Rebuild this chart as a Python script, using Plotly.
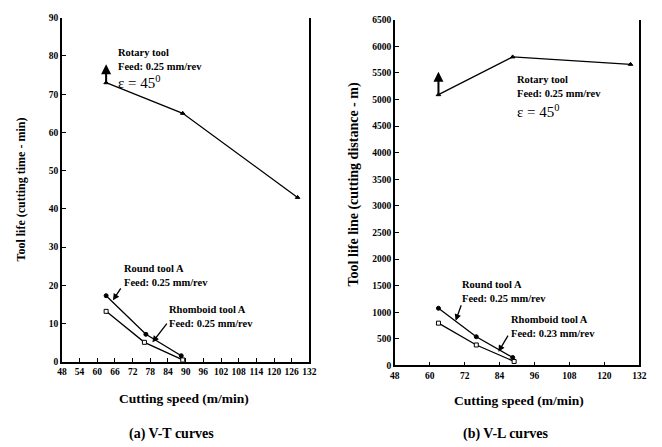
import plotly.graph_objects as go

# ---- data: (a) V-T curves ----
vt_rotary_v = [63, 89, 128]
vt_rotary_t = [73, 65, 43]
vt_round_v = [63, 76.5, 88.5]
vt_round_t = [17.3, 7.2, 1.6]
vt_rhomb_v = [63, 76, 89]
vt_rhomb_t = [13.2, 5.1, 0.5]

# ---- data: (b) V-L curves ----
vl_rotary_v = [63, 88.5, 129]
vl_rotary_l = [5090, 5800, 5660]
vl_round_v = [63, 76, 88.5]
vl_round_l = [1075, 540, 150]
vl_rhomb_v = [63, 76, 89]
vl_rhomb_l = [795, 385, 75]

x_ticks_a = list(range(48, 133, 6))
x_ticks_b = list(range(48, 133, 12))
y_ticks_a = list(range(0, 91, 10))
y_ticks_b = list(range(0, 6501, 500))

W, H = 662, 447
def px(x): return x / W
def py(y): return 1 - y / H

serif = "Liberation Serif"
line = dict(color="black", width=1.3)

fig = go.Figure()

def add_series(x, y, xa, ya, symbol, filled=True, size=4):
    fig.add_trace(go.Scatter(
        x=x, y=y, xaxis=xa, yaxis=ya, mode="lines+markers",
        line=line,
        marker=dict(symbol=symbol, size=size,
                    color="black" if filled else "white",
                    line=dict(color="black", width=1)),
        showlegend=False, hoverinfo="skip"))

add_series(vt_rotary_v, vt_rotary_t, "x", "y", "triangle-up", size=4)
add_series(vt_round_v, vt_round_t, "x", "y", "circle", size=4)
add_series(vt_rhomb_v, vt_rhomb_t, "x", "y", "square", filled=False, size=4)
add_series(vl_rotary_v, vl_rotary_l, "x2", "y2", "triangle-up", size=4)
add_series(vl_round_v, vl_round_l, "x2", "y2", "circle", size=4)
add_series(vl_rhomb_v, vl_rhomb_l, "x2", "y2", "square", filled=False, size=4)

tickfont = dict(family=serif, size=9.5, color="black", weight="bold")
common_x = dict(showline=True, linecolor="black", linewidth=1.5, ticks="inside",
                ticklen=4, tickcolor="black", showgrid=False, zeroline=False,
                tickfont=tickfont, fixedrange=True)
common_y = dict(showline=True, linecolor="black", linewidth=1.5, ticks="inside",
                ticklen=4, tickcolor="black", showgrid=False, zeroline=False,
                mirror=True, tickfont=tickfont, fixedrange=True)

fig.update_layout(
    width=W, height=H, margin=dict(l=0, r=0, t=0, b=0),
    paper_bgcolor="white", plot_bgcolor="white",
    xaxis=dict(domain=[px(58), px(310)], range=[48, 132], tickvals=x_ticks_a,
               anchor="y", **common_x),
    yaxis=dict(domain=[py(365), py(13)], range=[0, 90], tickvals=y_ticks_a,
               anchor="x", **common_y),
    xaxis2=dict(domain=[px(397), px(646)], range=[48, 132], tickvals=x_ticks_b,
                anchor="y2", **common_x),
    yaxis2=dict(domain=[py(368.7), py(15)], range=[0, 6500], tickvals=y_ticks_b,
                anchor="x2", **common_y),
)

bold = dict(family=serif, size=10.5, color="black", weight="bold")
eps = dict(family=serif, size=15, color="black")
ann = []

def label(text, x, y, xr, yr, font=bold):
    ann.append(dict(text=text, x=x, y=y, xref=xr, yref=yr, showarrow=False,
                    xanchor="left", yanchor="middle", font=font))

def arrow(xh, yh, xt, yt, xr, yr, head=2, size=1.0, width=1.3):
    ann.append(dict(text="", x=xh, y=yh, ax=xt, ay=yt, xref=xr, yref=yr,
                    axref=xr, ayref=yr, showarrow=True, arrowhead=head,
                    arrowsize=size, arrowwidth=width, arrowcolor="black"))

# (a) labels
label("Rotary tool", 66.5, 81.0, "x", "y")
label("Feed: 0.25 mm/rev", 66.5, 77.2, "x", "y")
label("ε = 45<sup>0</sup>", 66.5, 73.2, "x", "y", eps)
label("Round tool A", 68.5, 24.3, "x", "y")
label("Feed: 0.25 mm/rev", 68.5, 20.7, "x", "y")
label("Rhomboid tool A", 83.5, 13.6, "x", "y")
label("Feed: 0.25 mm/rev", 83.5, 10.0, "x", "y")
arrow(63, 77.8, 63, 73, "x", "y", head=2, width=2)
arrow(65.3, 16.1, 68.3, 19.6, "x", "y")
arrow(78.7, 5.1, 84.0, 10.4, "x", "y")

# (b) labels
label("Rotary tool", 89.2, 5380, "x2", "y2")
label("Feed: 0.25 mm/rev", 89.2, 5120, "x2", "y2")
label("ε = 45<sup>0</sup>", 89.2, 4790, "x2", "y2", eps)
label("Round tool A", 70.3, 1520, "x2", "y2")
label("Feed: 0.25 mm/rev", 70.3, 1262, "x2", "y2")
label("Rhomboid tool A", 87.2, 858, "x2", "y2")
label("Feed: 0.23 mm/rev", 87.2, 601, "x2", "y2")
arrow(63, 5520, 63, 5090, "x2", "y2", head=2, width=2)
arrow(68.9, 840, 71.0, 1160, "x2", "y2")
arrow(83.6, 257, 87.2, 590, "x2", "y2")

# axis titles and captions
def tfont(s): return dict(family=serif, size=s, color="black", weight="bold")
def ptext(text, x, y, angle=0, size=12):
    ann.append(dict(text=text, x=px(x), y=py(y), xref="paper", yref="paper",
                    showarrow=False, xanchor="center", yanchor="middle",
                    textangle=angle, font=tfont(size)))

ptext("Tool life (cutting time - min)", 16, 189, -90, 12)
ptext("Tool life line (cutting distance - m)", 355, 184, -90, 14)
ptext("Cutting speed (m/min)", 182, 403, 0, 13.5)
ptext("Cutting speed (m/min)", 523, 405, 0, 13.5)
ptext("(a) V-T curves", 170, 439, 0, 14)
ptext("(b) V-L curves", 510, 439, 0, 14)

fig.update_layout(annotations=ann)
fig.write_html("out.html", config={"displayModeBar": False},
               post_script="document.body.style.margin='0';document.body.style.overflow='hidden';")
